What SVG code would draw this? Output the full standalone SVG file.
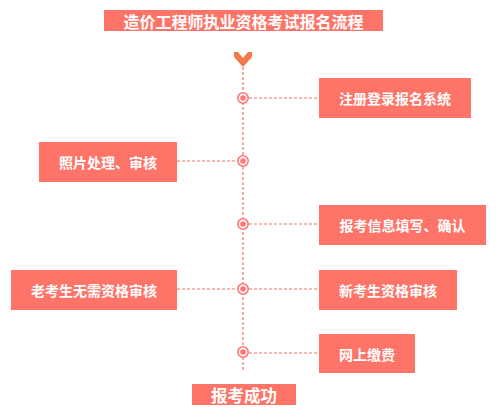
<svg xmlns="http://www.w3.org/2000/svg" width="498" height="418" viewBox="0 0 498 418">
<style>
.box{fill:#fe7468}
.t{font-family:"Noto Sans CJK SC","Liberation Sans",sans-serif;font-weight:bold;fill:#fff;text-anchor:middle;dominant-baseline:central}
.s{font-size:14px}
.dash{stroke:#f47066;stroke-width:1.2;stroke-dasharray:3,2;fill:none}
.ring{fill:#fff;stroke:#f77;stroke-width:1.6}
.dot{fill:#f77}
</style>
<rect width="498" height="418" fill="#fff"/>
<g id="title">
<rect class="box" x="104" y="10" width="279" height="21"/>
<text class="t" x="243.5" y="20.5" font-size="16">造价工程师执业资格考试报名流程</text>
</g>
<g id="chevron">
<polygon points="234,52 238,52 243,58 248,52 252,52 252,57 243,67 234,57" fill="#f47a4a"/>
</g>
<g id="connectors">
<line class="dash" x1="243" y1="67" x2="243" y2="372" stroke="#f48a8a"/>
<line class="dash" x1="249" y1="98" x2="319" y2="98"/>
<line class="dash" x1="177" y1="161" x2="237" y2="161"/>
<line class="dash" x1="249" y1="224" x2="319" y2="224"/>
<line class="dash" x1="177" y1="289" x2="237" y2="289"/>
<line class="dash" x1="249" y1="289" x2="319" y2="289"/>
<line class="dash" x1="249" y1="353" x2="319" y2="353"/>
</g>
<g id="dots">
<circle class="ring" cx="243" cy="98" r="5.2"/><circle class="dot" cx="243" cy="98" r="2.8"/>
<circle class="ring" cx="243" cy="161" r="5.2"/><circle class="dot" cx="243" cy="161" r="2.8"/>
<circle class="ring" cx="243" cy="224" r="5.2"/><circle class="dot" cx="243" cy="224" r="2.8"/>
<circle class="ring" cx="243" cy="289" r="5.2"/><circle class="dot" cx="243" cy="289" r="2.8"/>
<circle class="ring" cx="243" cy="352" r="5.2"/><circle class="dot" cx="243" cy="352" r="2.8"/>
</g>
<g id="n1">
<rect class="box" x="319" y="78" width="152" height="40"/>
<text class="t s" x="395" y="98">注册登录报名系统</text>
</g>
<g id="n2">
<rect class="box" x="39" y="142" width="138" height="40"/>
<text class="t s" x="108" y="162">照片处理、审核</text>
</g>
<g id="n3">
<rect class="box" x="319" y="205" width="167" height="40"/>
<text class="t s" x="402.5" y="225">报考信息填写、确认</text>
</g>
<g id="n4a">
<rect class="box" x="11" y="270" width="166" height="40"/>
<text class="t s" x="94" y="290">老考生无需资格审核</text>
</g>
<g id="n4b">
<rect class="box" x="319" y="270" width="138" height="40"/>
<text class="t s" x="388" y="290">新考生资格审核</text>
</g>
<g id="n5">
<rect class="box" x="319" y="334" width="96" height="39"/>
<text class="t s" x="367" y="353.5">网上缴费</text>
</g>
<g id="end">
<rect class="box" x="192" y="384" width="104" height="21"/>
<text class="t" x="244" y="394.5" font-size="16.5">报考成功</text>
</g>
</svg>
